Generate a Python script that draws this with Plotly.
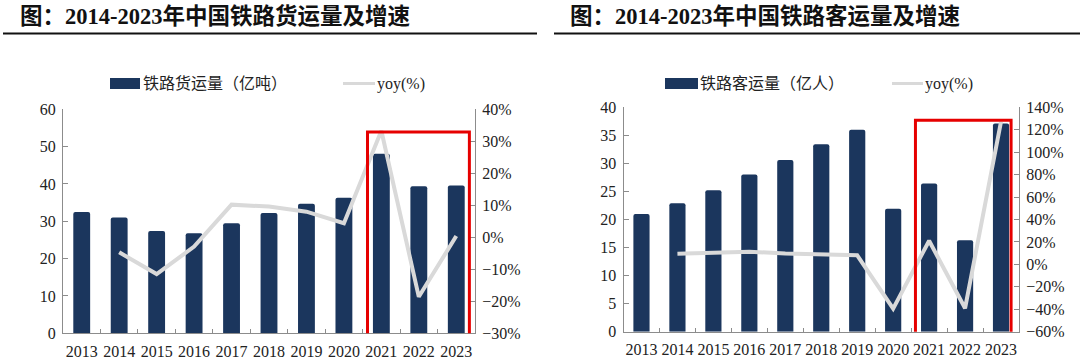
import plotly.graph_objects as go

years = ["2013", "2014", "2015", "2016", "2017", "2018", "2019", "2020", "2021", "2022", "2023"]
freight = [32.5, 31.0, 27.4, 26.8, 29.5, 32.2, 34.7, 36.3, 48.1, 39.4, 39.6]
freight_yoy = [None, -4.7, -11.5, -2.9, 10.2, 9.6, 8.0, 4.4, 33.3, -18.6, 0.4]
passenger = [21.0, 22.9, 25.2, 28.0, 30.6, 33.4, 36.0, 21.9, 26.4, 16.3, 37.1]
passenger_yoy = [None, 9.5, 10.2, 11.3, 9.7, 9.3, 8.1, -39.5, 21.1, -39.1, 127.2]

title_left = "图：2014-2023年中国铁路货运量及增速"
title_right = "图：2014-2023年中国铁路客运量及增速"
bar_name_left = "铁路货运量（亿吨）"
bar_name_right = "铁路客运量（亿人）"
line_name = "yoy(%)"
highlight = ["2021", "2023"]

BAR = "#1b365d"
LINE = "#d9d9d9"
AX = "#8c8c8c"
SERIF = "Liberation Serif, Times New Roman, serif"
CJK = "Liberation Serif, Noto Sans CJK SC, serif"

W, H = 1080, 361
fig = go.Figure()

fig.add_trace(go.Bar(x=years, y=freight, marker=dict(color=BAR, cornerradius=2), width=0.45,
                     xaxis="x", yaxis="y", showlegend=False))
fig.add_trace(go.Scatter(x=years, y=freight_yoy, mode="lines", line=dict(color=LINE, width=4),
                         xaxis="x", yaxis="y2", showlegend=False))
fig.add_trace(go.Bar(x=years, y=passenger, marker=dict(color=BAR, cornerradius=2), width=0.45,
                     xaxis="x2", yaxis="y3", showlegend=False))
fig.add_trace(go.Scatter(x=years, y=passenger_yoy, mode="lines", line=dict(color=LINE, width=4),
                         xaxis="x2", yaxis="y4", showlegend=False))

def px(v):
    return v / W

def py(v):
    return 1 - v / H

tickfont = dict(family=SERIF, size=16, color="#222222")
xcommon = dict(type="category", showline=True, linecolor=AX, linewidth=1, ticks="inside",
               tickson="boundaries", ticklen=4, tickcolor=AX, tickfont=tickfont, showgrid=False,
               zeroline=False, tickangle=0, automargin=False, ticklabelstandoff=3)
ycommon = dict(showline=True, linecolor=AX, linewidth=1, ticks="inside", ticklen=5, tickcolor=AX,
               tickfont=tickfont, showgrid=False, zeroline=False, automargin=False, ticklabelstandoff=3)

fig.update_layout(
    template="none",
    width=W, height=H, margin=dict(l=0, r=0, t=0, b=0, pad=0),
    paper_bgcolor="white", plot_bgcolor="white", bargap=0.5, showlegend=False,
    xaxis=dict(domain=[px(63), px(475)], anchor="y", **xcommon),
    yaxis=dict(domain=[py(333.3), py(109.3)], anchor="x", range=[0, 60], dtick=10, **ycommon),
    yaxis2=dict(overlaying="y", side="right", anchor="x", range=[-30, 40], dtick=10, ticksuffix="%", **ycommon),
    xaxis2=dict(domain=[px(623.5), px(1019)], anchor="y3", **xcommon),
    yaxis3=dict(domain=[py(331.7), py(107.3)], anchor="x2", range=[0, 40], dtick=5, **ycommon),
    yaxis4=dict(overlaying="y3", side="right", anchor="x2", range=[-60, 140], dtick=20, ticksuffix="%", **ycommon),
)

i0 = years.index(highlight[0])
i1 = years.index(highlight[1])
shapes = [
    dict(type="rect", xref="x", yref="y", x0=i0 - 0.37, x1=i1 + 0.35, y0=-1.0, y1=53.9,
         line=dict(color="#e60000", width=3), fillcolor="rgba(0,0,0,0)", layer="above"),
    dict(type="rect", xref="x2", yref="y3", x0=i0 - 0.38, x1=i1 + 0.28, y0=-0.95, y1=37.7,
         line=dict(color="#e60000", width=3), fillcolor="rgba(0,0,0,0)", layer="above"),
    # title underlines
    dict(type="line", xref="paper", yref="paper", x0=px(3), x1=px(537), y0=py(33.5), y1=py(33.5),
         line=dict(color="#111111", width=2)),
    dict(type="line", xref="paper", yref="paper", x0=px(554), x1=px(1080), y0=py(33.5), y1=py(33.5),
         line=dict(color="#111111", width=2)),
    # legend swatches
    dict(type="rect", xref="paper", yref="paper", x0=px(110), x1=px(140), y0=py(89), y1=py(78),
         fillcolor=BAR, line=dict(width=0)),
    dict(type="line", xref="paper", yref="paper", x0=px(343), x1=px(375), y0=py(83.5), y1=py(83.5),
         line=dict(color=LINE, width=3)),
    dict(type="rect", xref="paper", yref="paper", x0=px(665), x1=px(698), y0=py(89), y1=py(78),
         fillcolor=BAR, line=dict(width=0)),
    dict(type="line", xref="paper", yref="paper", x0=px(892), x1=px(923), y0=py(83.5), y1=py(83.5),
         line=dict(color=LINE, width=3)),
]
fig.update_layout(shapes=shapes)

annos = [
    dict(text="<b>" + title_left + "</b>", x=px(18), y=py(16), xanchor="left", yanchor="middle",
         font=dict(family=CJK, size=22.5, color="#111111")),
    dict(text="<b>" + title_right + "</b>", x=px(568), y=py(16), xanchor="left", yanchor="middle",
         font=dict(family=CJK, size=22.5, color="#111111")),
    dict(text=bar_name_left, x=px(141), y=py(83.5), xanchor="left", yanchor="middle",
         font=dict(family=CJK, size=16, color="#222222")),
    dict(text=line_name, x=px(375), y=py(83.5), xanchor="left", yanchor="middle",
         font=dict(family=SERIF, size=16, color="#222222")),
    dict(text=bar_name_right, x=px(698), y=py(83.5), xanchor="left", yanchor="middle",
         font=dict(family=CJK, size=16, color="#222222")),
    dict(text=line_name, x=px(923), y=py(83.5), xanchor="left", yanchor="middle",
         font=dict(family=SERIF, size=16, color="#222222")),
]
for a in annos:
    a.update(xref="paper", yref="paper", showarrow=False)
fig.update_layout(annotations=annos)

fig.write_html("out.html", config={"displayModeBar": False},
               post_script="document.body.style.margin='0';document.body.style.overflow='hidden';")
